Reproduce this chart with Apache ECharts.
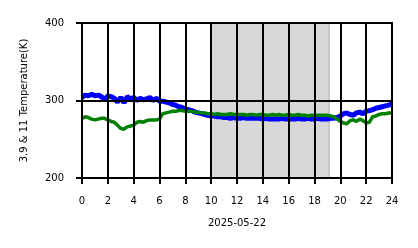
<!DOCTYPE html>
<html>
<head>
<meta charset="utf-8">
<script src="https://cdn.jsdelivr.net/npm/echarts@6/dist/echarts.min.js"></script>
<style>html,body{margin:0;padding:0;background:#fff;}#c{width:418px;height:248px;}</style>
</head>
<body>
<div id="c"></div>
<script>
// time step 0.25 h from 0 to 24
var hours = [];
for (var i = 0; i <= 96; i++) hours.push(i * 0.25);

var band39 = [304,307,306,308,306,307,305,301,306,305,303,298,304,297,305,302,
  304,300,303,301,302,304,300,303,299,299,298,297,295,294,292,291,
  289,288,287,285,284,283,282,281,280,280,279,279,278,278,277,278,
  277,277,278,277,277,277,277,277,276,277,276,276,276,276,277,276,
  276,276,276,277,276,276,277,276,276,277,276,276,276,277,277,278,
  280,283,284,282,281,284,285,283,286,287,288,290,291,292,293,294,296,297];
var band11 = [277,279,278,276,275,276,277,277,275,273,272,268,264,263,266,267,
  268,272,273,272,274,275,275,275,276,283,284,285,286,286,287,287,
  286,286,286,285,285,284,284,283,283,282,283,282,282,282,283,282,
  282,282,282,281,282,282,281,282,282,281,281,282,281,282,281,281,
  282,281,281,282,281,281,280,281,281,281,281,281,281,280,279,276,
  273,271,270,274,275,273,276,274,271,272,279,280,282,283,283,284,284];

var shadeStart = 10, shadeEnd = 19.2, shadeEdge = 19.05;
var xTicks = [0,2,4,6,8,10,12,14,16,18,20,22,24];
var yTicks = [200,300,400];

function pairs(v){ var out=[]; for (var i=0;i<hours.length && i<v.length;i++) out.push([hours[i], v[i]]); return out; }

var chart = echarts.init(document.getElementById('c'), null, {renderer:'canvas'});
var font = 'DejaVu Sans';
chart.setOption({
  animation: false,
  backgroundColor: '#fff',
  grid: {left: 82, right: 26, top: 23, bottom: 70, show: true, borderColor: '#000', borderWidth: 2, backgroundColor: 'transparent'},
  xAxis: {
    type: 'value', min: xTicks[0], max: xTicks[xTicks.length-1], interval: 2, z: 10,
    name: '2025-05-22', nameLocation: 'middle', nameGap: 40,
    nameTextStyle: {color:'#000', fontSize: 10, fontFamily: font},
    axisLine: {show: true, onZero: false, lineStyle: {color:'#000', width: 2}},
    axisTick: {show: true, length: 6, lineStyle: {color:'#000', width: 2}},
    axisLabel: {color:'#000', fontSize: 10, fontFamily: font, margin: 18},
    splitLine: {show: true, lineStyle: {color:'#000', width: 2}}
  },
  yAxis: {
    type: 'value', min: yTicks[0], max: yTicks[yTicks.length-1], interval: 100, z: 10,
    name: '3.9 & 11 Temperature(K)', nameLocation: 'middle', nameGap: 53,
    nameTextStyle: {color:'#000', fontSize: 10, fontFamily: font},
    axisLine: {show: true, onZero: false, lineStyle: {color:'#000', width: 2}},
    axisTick: {show: true, length: 6, lineStyle: {color:'#000', width: 2}},
    axisLabel: {color:'#000', fontSize: 10, fontFamily: font, margin: 18},
    splitLine: {show: true, lineStyle: {color:'#000', width: 2}}
  },
  series: [
    {
      type: 'line', data: pairs(band39), showSymbol: false, z: 2,
      lineStyle: {color: '#0000ff', width: 5}, itemStyle:{color:'#0000ff'},
      markArea: {
        silent: true,
        data: [
          [{xAxis: shadeStart, itemStyle: {color: 'rgba(190,190,190,0.6)'}}, {xAxis: shadeEnd}],
          [{xAxis: shadeEdge, itemStyle: {color: 'rgba(170,170,170,0.35)'}}, {xAxis: shadeEnd}]
        ]
      }
    },
    {
      type: 'line', data: pairs(band11), showSymbol: false, z: 3,
      lineStyle: {color: '#008000', width: 3.5}, itemStyle:{color:'#008000'}
    }
  ]
});
</script>
</body>
</html>
